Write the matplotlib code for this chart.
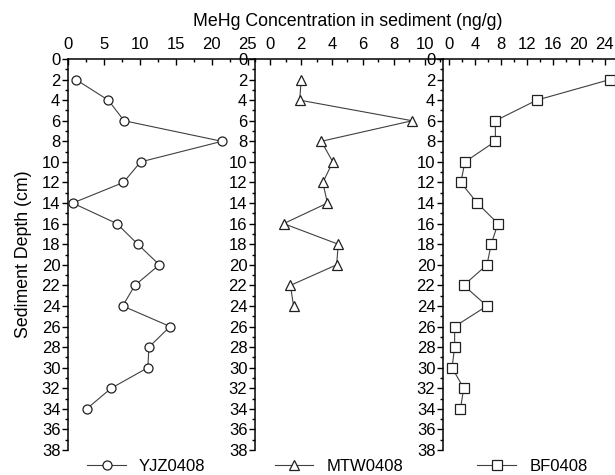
import numpy as np
import matplotlib
matplotlib.use("Agg")
import matplotlib.pyplot as plt
from matplotlib.ticker import MultipleLocator

plt.rcParams['font.family'] = ['Liberation Sans', 'DejaVu Sans']
plt.rcParams['font.size'] = 12

LINE_COLOUR = "#404040"

# Depths (cm) and MeHg concentrations (ng/g) for each core
yjz_depth = [2, 4, 6, 8, 10, 12, 14, 16, 18, 20, 22, 24, 26, 28, 30, 32, 34]
yjz_mehg = [1.1, 5.6, 7.8, 21.4, 10.1, 7.7, 0.65, 6.8, 9.7, 12.7, 9.3, 7.6, 14.2, 11.25, 11.1, 6.0, 2.6]

mtw_depth = [2, 4, 6, 8, 10, 12, 14, 16, 18, 20, 22, 24]
mtw_mehg = [2.0, 1.9, 9.2, 3.3, 4.05, 3.4, 3.7, 0.86, 4.4, 4.3, 1.3, 1.5]

bf_depth = [2, 4, 6, 8, 10, 12, 14, 16, 18, 20, 22, 24, 26, 28, 30, 32, 34]
bf_mehg = [24.8, 13.5, 7.1, 7.1, 2.4, 1.75, 4.3, 7.5, 6.45, 5.8, 2.2, 5.8, 0.8, 0.8, 0.4, 2.2, 1.7]

names = ["YJZ0408", "MTW0408", "BF0408"]
markers = ["o", "^", "s"]

fig = plt.figure(figsize=(6.15, 4.75), dpi=100)

bottom = 25 / 475
height = (450 - 59) / 475
ax1 = fig.add_axes([68 / 615, bottom, 187 / 615, height])
ax2 = fig.add_axes([255 / 615, bottom, 188 / 615, height])
ax3 = fig.add_axes([443 / 615, bottom, 172 / 615, height])

panels = [
    (ax1, yjz_mehg, yjz_depth, (0, 26), 5, 2.5, 0.42),
    (ax2, mtw_mehg, mtw_depth, (-1, 11.2), 2, 1, 0.447),
    (ax3, bf_mehg, bf_depth, (-1, 25.6), 4, 2, 0.52),
]

for i, (ax, x, y, xlim, major, minor, leg_x) in enumerate(panels):
    ax.patch.set_visible(False)
    ax.plot(x, y, color=LINE_COLOUR, linewidth=0.8, marker=markers[i],
            markersize=7.2 if markers[i] == "^" else 6.5,
            markerfacecolor="white", markeredgecolor="#202020",
            markeredgewidth=0.9, label=names[i], zorder=3)
    ax.set_xlim(*xlim)
    ax.set_ylim(38, 0)

    ax.spines["right"].set_visible(False)
    ax.spines["bottom"].set_visible(False)
    ax.spines["left"].set_linewidth(1.1)
    ax.spines["top"].set_linewidth(1.1)

    ax.xaxis.tick_top()
    ax.xaxis.set_major_locator(MultipleLocator(major))
    ax.xaxis.set_minor_locator(MultipleLocator(minor))
    ticks = np.arange(0, xlim[1] + 0.01, major)
    ax.set_xticks(ticks)
    ax.set_xticklabels([str(int(t)) for t in ticks])
    ax.tick_params(axis="x", which="major", direction="in", length=4, width=1, pad=5)
    ax.tick_params(axis="x", which="minor", direction="in", length=2.5, width=1)

    ax.yaxis.set_major_locator(MultipleLocator(2))
    ax.yaxis.set_minor_locator(MultipleLocator(1))
    ax.tick_params(axis="y", which="major", direction="out", length=4.5, width=1, pad=1)
    ax.tick_params(axis="y", which="minor", direction="out", length=2.5, width=1)

    ax.legend(loc="center", bbox_to_anchor=(leg_x, -0.042), frameon=False,
              handlelength=2.3, handletextpad=0.8, borderaxespad=0.0,
              fontsize=12)

ax1.set_ylabel("Sediment Depth (cm)", fontsize=12.8)
ax1.yaxis.set_label_coords(-0.195, 0.5)
fig.text(348 / 615, 1 - 22 / 475, "MeHg Concentration in sediment (ng/g)",
         ha="center", va="center", fontsize=12.8)

fig.savefig("out.png", dpi=100)
